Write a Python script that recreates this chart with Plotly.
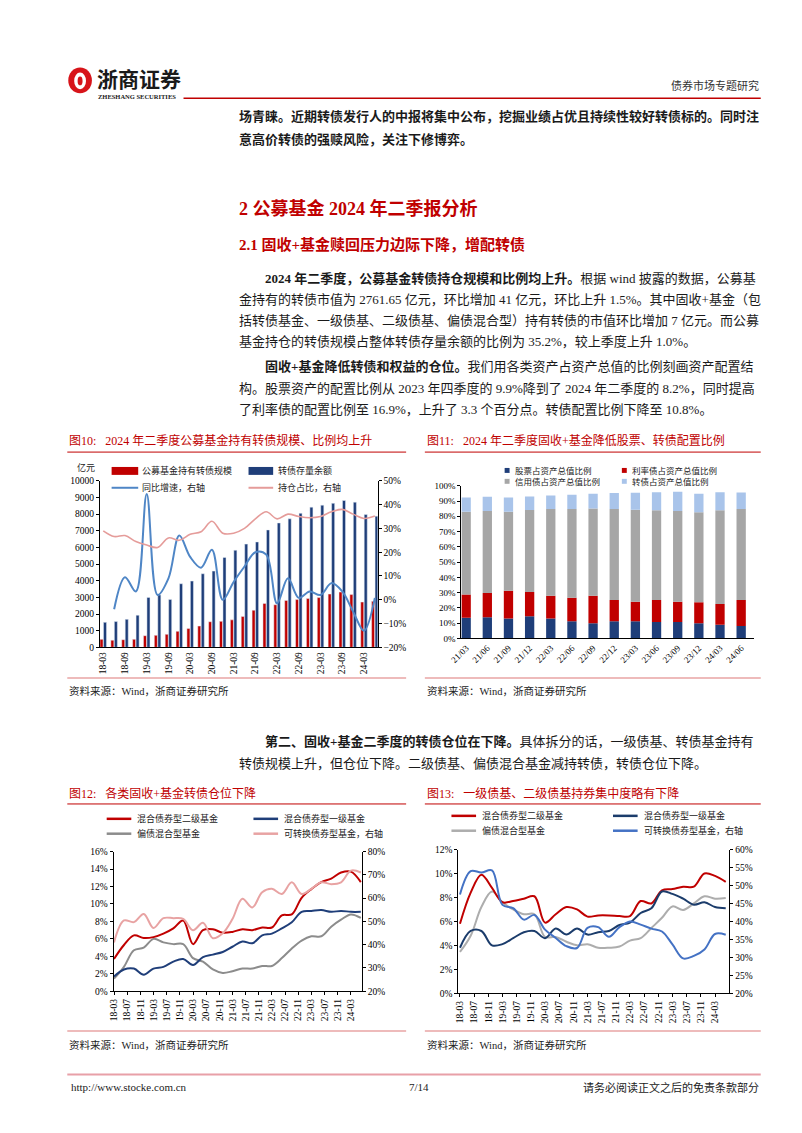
import plotly.graph_objects as go
import numpy as np

W, H = 802, 1133
def X(p): return p / W
def Y(p): return 1 - p / H

CJK = "Noto Sans CJK SC"
SERIF = "Liberation Serif"
MIX = "Liberation Serif, Noto Sans CJK SC"
RED = "#C00000"
NAVY = "#1F3E79"

# ---------------- Fig10 data ----------------
cats10 = ["18-03","18-06","18-09","18-12","19-03","19-06","19-09","19-12","20-03","20-06",
          "20-09","20-12","21-03","21-06","21-09","21-12","22-03","22-06","22-09","22-12",
          "23-03","23-06","23-09","23-12","24-03","24-06"]
fund_cb = [480,430,460,480,700,720,780,960,1130,1280,1540,1560,1650,1860,2230,2640,2560,2820,
           2870,2930,2990,3200,3320,3170,2720,2762]
cb_outstanding = [1500,1550,1680,1930,3000,3150,2880,3820,3980,4420,4580,5400,5830,6200,6330,
                  7050,7470,7720,8050,8420,8540,8650,8820,8720,7980,7880]
yoy_growth = [None,-4,9.5,3.5,44.5,2,9,27,18,13.5,21,0,7.5,14,20,19,-1.5,9,0.8,3.5,2,7,3.5,-5,-13,0.8]
hold_share = [29,26.6,27,24.5,23,22,26,25,27.5,28.6,33,28,28,30,34,37,34,36,35,34.5,35,37,38,36,34.2,35.2]
ticks10 = cats10[::2]

# ---------------- Fig11 data ----------------
cats11 = ["21/03","21/06","21/09","21/12","22/03","22/06","22/09","22/12","23/03","23/06",
          "23/09","23/12","24/03","24/06"]
stock_pct = [13.5,13.9,13.0,14.5,13.0,11.3,10.0,11.3,11.3,10.7,10.7,9.9,9.0,8.2]
rate_pct = [15.2,15.9,18.3,15.9,15.0,15.4,18.0,13.9,12.8,14.5,13.4,13.8,13.6,16.9]
credit_pct = [54.3,53.7,51.7,53.7,56.8,58.1,57.2,59.6,60.2,58.7,59.4,58.9,61.3,59.7]
cb_pct = [9.4,9.3,9.4,8.9,8.9,9.3,9.6,10.4,11.1,11.8,12.6,12.2,11.8,10.8]

# ---------------- Fig12 / Fig13 data (quarterly) ----------------
qdates = ["2018-03-01","2018-06-01","2018-09-01","2018-12-01","2019-03-01","2019-06-01",
          "2019-09-01","2019-12-01","2020-03-01","2020-06-01","2020-09-01","2020-12-01",
          "2021-03-01","2021-06-01","2021-09-01","2021-12-01","2022-03-01","2022-06-01",
          "2022-09-01","2022-12-01","2023-03-01","2023-06-01","2023-09-01","2023-12-01",
          "2024-03-01","2024-06-01"]
tick_labels_4m = ["18-03","18-07","18-11","19-03","19-07","19-11","20-03","20-07","20-11",
                  "21-03","21-07","21-11","22-03","22-07","22-11","23-03","23-07","23-11","24-03"]

f12_secondary = [3.7,5.3,6.4,6.1,6.2,6.6,7.2,8.1,5.4,7.0,7.1,6.7,6.8,7.1,7.0,7.3,7.3,8.7,8.8,
                 10.7,11.7,12.5,12.9,13.6,13.7,12.5]
f12_primary = [1.7,2.5,2.6,1.9,2.6,2.8,3.4,3.7,3.0,3.9,4.2,4.5,5.1,5.7,5.5,6.4,6.6,7.2,7.9,
               9.1,9.2,9.3,9.1,9.2,9.1,9.1]
f12_hybrid = [1.45,2.8,4.7,5.0,6.0,5.6,5.4,5.4,3.8,3.4,2.5,2.1,2.3,2.6,2.6,2.9,2.9,3.8,4.9,
              5.8,6.3,6.3,7.4,8.2,8.8,8.4]
f12_cbfund = [41,50.4,49.7,53.2,47.2,51.4,51.4,51.1,46.2,49.4,42.8,44.9,51,59.7,56,62.5,64,
              61.8,66.8,61.8,64,66.8,66,66.8,71.8,71]

f13_secondary = [5.8,8.4,9.9,8.8,7.6,7.7,7.9,8.1,5.9,6.6,7.2,7.0,6.4,6.5,6.5,6.45,6.45,7.7,
                 7.5,8.6,8.7,8.9,8.9,10.0,9.8,9.3]
f13_primary = [3.8,5.2,5.2,4.0,4.1,4.6,5.1,5.2,4.6,5.4,4.9,5.4,4.9,5.1,5.2,5.7,5.9,6.7,7.1,
               8.5,8.3,7.9,7.4,7.6,7.2,7.1]
f13_hybrid = [3.45,4.8,7.2,8.5,7.6,7.0,6.6,6.6,4.7,4.7,4.3,4.0,4.1,3.8,3.8,3.9,4.4,4.6,5.45,
              6.3,7.25,6.95,7.5,8.1,7.9,7.95]
f13_cbfund = [47.5,54,53.6,54.2,44.6,43.7,40.5,41.8,37.7,35.4,33.1,32.6,38.2,38.4,35.7,38.4,
              40,39.1,38,37.2,33.6,29.7,30.4,32.2,36.5,36.3]

fig = go.Figure()

# ---- Fig10 traces ----
fig.add_trace(go.Bar(x=cats10, y=fund_cb, marker_color=RED, width=0.28, offset=-0.3,
                     xaxis="x", yaxis="y", name="公募基金持有转债规模"))
fig.add_trace(go.Bar(x=cats10, y=cb_outstanding, marker_color=NAVY, width=0.28, offset=0.02,
                     xaxis="x", yaxis="y", name="转债存量余额"))
fig.add_trace(go.Scatter(x=cats10, y=yoy_growth, mode="lines", line=dict(color="#4F86C6", width=2, shape="spline", smoothing=1),
                         xaxis="x", yaxis="y2", connectgaps=False, name="同比增速，右轴"))
fig.add_trace(go.Scatter(x=cats10, y=hold_share, mode="lines", line=dict(color="#E59C9A", width=1.6, shape="spline", smoothing=1),
                         xaxis="x", yaxis="y2", name="持仓占比，右轴"))

# ---- Fig11 traces (stacked via base) ----
s = np.array(stock_pct); r = np.array(rate_pct); c = np.array(credit_pct); v = np.array(cb_pct)
for vals, base, col, nm in [(s, None, "#1F3E79", "股票占资产总值比例"),
                            (r, s, "#C00000", "利率债占资产总值比例"),
                            (c, s + r, "#A6A6A6", "信用债占资产总值比例"),
                            (v, s + r + c, "#A9C4EA", "转债占资产总值比例")]:
    fig.add_trace(go.Bar(x=cats11, y=vals, base=base, marker_color=col, width=0.44,
                         offsetgroup="stk", xaxis="x2", yaxis="y3", name=nm, marker_line_width=0))

# ---- Fig12 traces ----
for vals, col, ax_, nm in [(f12_cbfund, "#E8A3A3", "y5", "可转换债券型基金，右轴"),
                           (f12_hybrid, "#8C8C8C", "y4", "偏债混合型基金"),
                           (f12_primary, "#1F3E79", "y4", "混合债券型一级基金"),
                           (f12_secondary, "#C00000", "y4", "混合债券型二级基金")]:
    fig.add_trace(go.Scatter(x=qdates, y=vals, mode="lines", xaxis="x3", yaxis=ax_, name=nm,
                             line=dict(color=col, width=2, shape="spline", smoothing=1)))

# ---- Fig13 traces ----
for vals, col, ax_, nm in [(f13_hybrid, "#ADADAD", "y6", "偏债混合型基金"),
                           (f13_secondary, "#C00000", "y6", "混合债券型二级基金"),
                           (f13_primary, "#1B3C6B", "y6", "混合债券型一级基金"),
                           (f13_cbfund, "#4472C4", "y7", "可转换债券型基金，右轴")]:
    fig.add_trace(go.Scatter(x=qdates, y=vals, mode="lines", xaxis="x4", yaxis=ax_, name=nm,
                             line=dict(color=col, width=2, shape="spline", smoothing=1)))

tickfont = dict(family=SERIF, size=9.5, color="black")
def ax(**kw):
    d = dict(showgrid=False, zeroline=False, showline=True, linecolor="black", linewidth=1,
             ticks="outside", ticklen=3, tickcolor="black", tickfont=tickfont, fixedrange=True)
    d.update(kw)
    return d

tv4m = ["20" + t + "-01" for t in tick_labels_4m]

fig.update_layout(
    width=W, height=H, autosize=False, margin=dict(l=0, r=0, t=0, b=0),
    paper_bgcolor="white", plot_bgcolor="rgba(0,0,0,0)", showlegend=False,
    barmode="group",
    # Fig10
    xaxis=ax(domain=[X(81), X(363)], anchor="y", type="category", range=[-0.32, 25.25],
             tickmode="array", tickvals=ticks10, ticktext=ticks10, tickangle=-90, ticks=""),
    yaxis=ax(domain=[Y(640), Y(472)], anchor="x", range=[0, 10000], dtick=1000, tickformat="d"),
    yaxis2=ax(overlaying="y", side="right", anchor="x", range=[-20, 50], dtick=10, ticksuffix="%"),
    # Fig11
    xaxis2=ax(domain=[X(448), X(745)], anchor="y3", type="category", range=[-0.23, 13.6],
              tickangle=-45, ticks="", tickfont=dict(family=SERIF, size=9, color="black")),
    yaxis3=ax(domain=[Y(631), Y(477)], anchor="x2", range=[0, 100], dtick=10, ticksuffix="%",
              tickfont=dict(family=SERIF, size=9, color="black")),
    # Fig12
    xaxis3=ax(domain=[X(95), X(347)], anchor="y4", type="date", range=["2018-02-25", "2024-06-10"],
              tickmode="array", tickvals=tv4m, ticktext=tick_labels_4m, tickangle=-90),
    yaxis4=ax(domain=[Y(987), Y(846)], anchor="x3", range=[0, 16], dtick=2, ticksuffix="%"),
    yaxis5=ax(overlaying="y4", side="right", anchor="x3", range=[20, 80], dtick=10, ticksuffix="%"),
    # Fig13
    xaxis4=ax(domain=[X(445), X(720)], anchor="y6", type="date", range=["2018-02-15", "2024-07-01"],
              tickmode="array", tickvals=tv4m, ticktext=tick_labels_4m, tickangle=-90),
    yaxis6=ax(domain=[Y(989), Y(844)], anchor="x4", range=[0, 12], dtick=2, ticksuffix="%"),
    yaxis7=ax(overlaying="y6", side="right", anchor="x4", range=[20, 60], dtick=5, ticksuffix="%"),
)

ann = []
shapes = []
def txt(x, y, text, size=13, color="#1a1a1a", anchor="left", family=MIX):
    ann.append(dict(x=X(x), y=Y(y), xref="paper", yref="paper", text=text, showarrow=False,
                    xanchor=anchor, yanchor="middle", font=dict(family=family, size=size, color=color)))
def hline(x0, x1, y, color, width):
    shapes.append(dict(type="line", xref="paper", yref="paper", x0=X(x0), x1=X(x1), y0=Y(y), y1=Y(y),
                       line=dict(color=color, width=width)))
def rect(x0, x1, y0, y1, color):
    shapes.append(dict(type="rect", xref="paper", yref="paper", x0=X(x0), x1=X(x1), y0=Y(y1), y1=Y(y0),
                       fillcolor=color, line=dict(width=0)))

# ---- Header ----
shapes.append(dict(type="circle", xref="paper", yref="paper", x0=X(49), x1=X(73), y0=Y(81), y1=Y(55),
                   fillcolor="#D7141A", line=dict(width=0)))
shapes.append(dict(type="circle", xref="paper", yref="paper", x0=X(55), x1=X(67), y0=Y(77), y1=Y(60),
                   fillcolor="white", line=dict(width=0)))
shapes.append(dict(type="circle", xref="paper", yref="paper", x0=X(58.5), x1=X(63.5), y0=Y(73), y1=Y(64),
                   fillcolor="#D7141A", line=dict(width=0)))
txt(76, 66, "<b>浙商证券</b>", size=21, color="#1a1a1a", family=CJK)
txt(77, 84, "<b>ZHESHANG SECURITIES</b>", size=6.5, color="#1a1a1a", family=SERIF)
hline(166, 752, 86, RED, 1.5)
txt(752, 73, "债券市场专题研究", size=11, color="#333", anchor="right", family=CJK)

# ---- Body text ----
txt(220, 104, "<b>场青睐。近期转债发行人的中报将集中公布，挖掘业绩占优且持续性较好转债标的。同时注</b>", 13)
txt(220, 128, "<b>意高价转债的强赎风险，关注下修博弈。</b>", 13)
txt(220, 197, "<b>2 公募基金 2024 年二季报分析</b>", 18, RED)
txt(220, 234, "<b>2.1 固收+基金赎回压力边际下降，增配转债</b>", 15, RED)
txt(247, 268, "<b>2024 年二季度，公募基金转债持仓规模和比例均上升。</b>根据 wind 披露的数据，公募基", 13)
txt(220, 289, "金持有的转债市值为 2761.65 亿元，环比增加 41 亿元，环比上升 1.5%。其中固收+基金（包", 13)
txt(220, 310, "括转债基金、一级债基、二级债基、偏债混合型）持有转债的市值环比增加 7 亿元。而公募", 13)
txt(220, 331, "基金持仓的转债规模占整体转债存量余额的比例为 35.2%，较上季度上升 1.0%。", 13)
txt(247, 357, "<b>固收+基金降低转债和权益的仓位。</b>我们用各类资产占资产总值的比例刻画资产配置结", 13)
txt(220, 379, "构。股票资产的配置比例从 2023 年四季度的 9.9%降到了 2024 年二季度的 8.2%，同时提高", 13)
txt(220, 400, "了利率债的配置比例至 16.9%，上升了 3.3 个百分点。转债配置比例下降至 10.8%。", 13)
txt(247, 735, "<b>第二、固收+基金二季度的转债仓位在下降。</b>具体拆分的话，一级债基、转债基金持有", 13)
txt(220, 757, "转债规模上升，但仓位下降。二级债基、偏债混合基金减持转债，转债仓位下降。", 13)

# ---- Figure frames ----
txt(48, 431, "图10:&nbsp;&nbsp; 2024 年二季度公募基金持有转债规模、比例均上升", 12, RED)
txt(411, 431, "图11:&nbsp;&nbsp; 2024 年二季度固收+基金降低股票、转债配置比例", 12, RED)
hline(48, 392, 443, RED, 1)
hline(411, 752, 443, RED, 1)
hline(48, 392, 671, "#E8A4A4", 1.5)
hline(411, 752, 671, "#E8A4A4", 1.5)
txt(48, 684, "资料来源：Wind，浙商证券研究所", 10.5, "#222")
txt(411, 684, "资料来源：Wind，浙商证券研究所", 10.5, "#222")

txt(48, 787, "图12:&nbsp;&nbsp; 各类固收+基金转债仓位下降", 12, RED)
txt(411, 787, "图13:&nbsp;&nbsp; 一级债基、二级债基持券集中度略有下降", 12, RED)
hline(48, 392, 798, RED, 1)
hline(411, 752, 798, RED, 1)
hline(48, 392, 1027, "#E8A4A4", 1.5)
hline(411, 752, 1027, "#E8A4A4", 1.5)
txt(48, 1041, "资料来源：Wind，浙商证券研究所", 10.5, "#222")
txt(411, 1041, "资料来源：Wind，浙商证券研究所", 10.5, "#222")

# ---- Fig10 legend ----
LG = 9
txt(56, 459, "亿元", LG, "#222")
rect(93, 120, 458, 466, RED); txt(122, 462, "公募基金持有转债规模", LG, "#222")
rect(232, 257, 458, 466, NAVY); txt(260, 462, "转债存量余额", LG, "#222")
hline(93, 120, 479, "#4F86C6", 2); txt(122, 479, "同比增速，右轴", LG, "#222")
hline(232, 257, 479, "#E59C9A", 2); txt(260, 479, "持仓占比，右轴", LG, "#222")

# ---- Fig11 legend ----
rect(492, 497, 459, 464, "#1F3E79"); txt(500, 462, "股票占资产总值比例", 8.5, "#222")
rect(611, 616, 459, 464, "#C00000"); txt(619, 462, "利率债占资产总值比例", 8.5, "#222")
rect(492, 497, 470, 475, "#A6A6A6"); txt(500, 473, "信用债占资产总值比例", 8.5, "#222")
rect(611, 616, 470, 475, "#A9C4EA"); txt(619, 473, "转债占资产总值比例", 8.5, "#222")

# ---- Fig12 legend ----
hline(88, 113, 813, "#C00000", 2.5); txt(117, 813, "混合债券型二级基金", LG, "#222")
hline(237, 262, 813, "#1F3E79", 2.5); txt(266, 813, "混合债券型一级基金", LG, "#222")
hline(88, 113, 828, "#8C8C8C", 2.5); txt(117, 828, "偏债混合型基金", LG, "#222")
hline(237, 262, 828, "#E8A3A3", 2.5); txt(266, 828, "可转换债券型基金，右轴", LG, "#222")

# ---- Fig13 legend ----
hline(438, 463, 810, "#C00000", 2.5); txt(467, 810, "混合债券型二级基金", LG, "#222")
hline(602, 627, 810, "#1B3C6B", 2.5); txt(631, 810, "混合债券型一级基金", LG, "#222")
hline(438, 463, 825, "#ADADAD", 2.5); txt(467, 825, "偏债混合型基金", LG, "#222")
hline(602, 627, 825, "#4472C4", 2.5); txt(631, 825, "可转换债券型基金，右轴", LG, "#222")

# ---- Footer ----
hline(48, 752, 1071, "#E8A0A8", 2)
txt(50, 1084, "http://www.stocke.com.cn", 11, "#222", family=SERIF)
txt(405, 1084, "7/14", 11, "#222", anchor="center", family=SERIF)
txt(752, 1084, "请务必阅读正文之后的免责条款部分", 11, "#222", anchor="right", family=CJK)

fig.update_layout(annotations=ann, shapes=shapes)
fig.write_html("out.html")
